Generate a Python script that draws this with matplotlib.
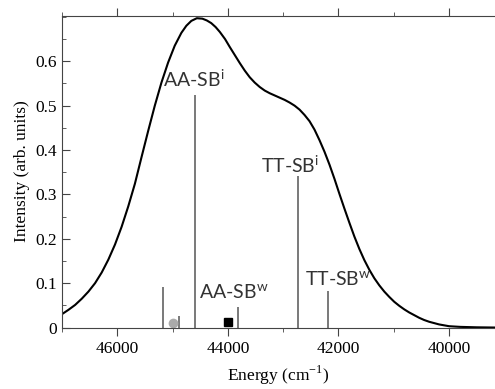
import matplotlib.pyplot as plt
from matplotlib.ticker import MultipleLocator

# absorption envelope (cm^-1, intensity)
energy = [47000, 46880, 46760, 46640, 46520, 46400, 46280, 46160, 46040,
          45920, 45800, 45680, 45560, 45440, 45320, 45200, 45080, 44960,
          44840, 44750, 44660, 44560, 44460, 44380, 44300, 44220, 44144,
          44050, 43964, 43874, 43784, 43694, 43604, 43514, 43423, 43333,
          43243, 43153, 43063, 42973, 42883, 42793, 42703, 42613, 42523,
          42433, 42342, 42252, 42162, 42072, 41982, 41892, 41802, 41712,
          41622, 41532, 41441, 41351, 41261, 41171, 41081, 40991, 40901,
          40811, 40721, 40631, 40541, 40451, 40360, 40270, 40180, 40090,
          40000, 39800, 39500, 39170]
intensity = [0.030, 0.040, 0.051, 0.065, 0.081, 0.100, 0.124, 0.153, 0.187,
             0.227, 0.273, 0.324, 0.384, 0.443, 0.500, 0.552, 0.597, 0.635,
             0.664, 0.680, 0.691, 0.697, 0.696, 0.692, 0.686, 0.677, 0.666,
             0.650, 0.632, 0.614, 0.596, 0.579, 0.564, 0.552, 0.542, 0.534,
             0.528, 0.523, 0.518, 0.513, 0.507, 0.500, 0.491, 0.479, 0.465,
             0.446, 0.422, 0.396, 0.367, 0.335, 0.301, 0.268, 0.236, 0.205,
             0.177, 0.152, 0.130, 0.111, 0.095, 0.081, 0.069, 0.058, 0.049,
             0.041, 0.034, 0.028, 0.022, 0.017, 0.013, 0.010, 0.007, 0.005,
             0.003, 0.0015, 0.0005, 0.0]

# transitions (stick spectrum)
stick_pos = [45177, 44874, 44586, 43807, 42735, 42193]
stick_height = [0.092, 0.026, 0.524, 0.047, 0.342, 0.083]

# marker positions
circle_pos, circle_val = [45000], [0.011]
square_pos, square_val = [44000], [0.013]

labels = [r"AA-SB$^{\mathregular{i}}$", r"AA-SB$^{\mathregular{w}}$",
          r"TT-SB$^{\mathregular{i}}$", r"TT-SB$^{\mathregular{w}}$"]
label_x = [45170, 44514, 43396, 42604]
label_y = [0.542, 0.065, 0.348, 0.094]

plt.rcParams["font.family"] = ["Liberation Serif", "DejaVu Serif"]
plt.rcParams["mathtext.fontset"] = "custom"
plt.rcParams["mathtext.rm"] = "Lato"

fig = plt.figure(figsize=(4.95, 3.89), dpi=100)
ax = fig.add_axes([0.125, 0.158, 0.875, 0.802])

ax.plot(energy, intensity, color="black", lw=1.5)
ax.vlines(stick_pos, 0, stick_height, color="#555555", lw=1.1)
ax.plot(circle_pos, circle_val, "o", color="#aaaaaa", ms=7, mec="none")
ax.plot(square_pos, square_val, "s", color="black", ms=6)

for lab, lx, ly in zip(labels, label_x, label_y):
    ax.text(lx, ly, lab, family="Lato", fontsize=14, ha="left",
            va="baseline", color="#333333")

ax.set_xlim(47000, 39170)
ax.set_ylim(0, 0.703)
ax.xaxis.set_major_locator(MultipleLocator(2000))
ax.xaxis.set_minor_locator(MultipleLocator(1000))
ax.yaxis.set_minor_locator(MultipleLocator(0.05))
ax.set_yticks([0, 0.1, 0.2, 0.3, 0.4, 0.5, 0.6])
ax.set_yticklabels(["0", "0.1", "0.2", "0.3", "0.4", "0.5", "0.6"])

ax.tick_params(axis="x", which="both", direction="out", top=True,
               labelsize=12.5, color="#444444")
ax.tick_params(axis="x", which="major", length=6)
ax.tick_params(axis="x", which="minor", length=3)
ax.tick_params(axis="y", which="both", direction="in", labelsize=12.5,
               color="#444444")
ax.tick_params(axis="y", which="major", length=6)
ax.tick_params(axis="y", which="minor", length=3)

ax.spines["right"].set_visible(False)
for s in ["left", "top", "bottom"]:
    ax.spines[s].set_color("#444444")

ax.set_xlabel(r"Energy (cm$^{\mathregular{-1}}$)", fontsize=12.5, labelpad=5)
ax.set_ylabel("Intensity (arb. units)", fontsize=12.5, labelpad=4)

fig.savefig("out.png", dpi=100)
